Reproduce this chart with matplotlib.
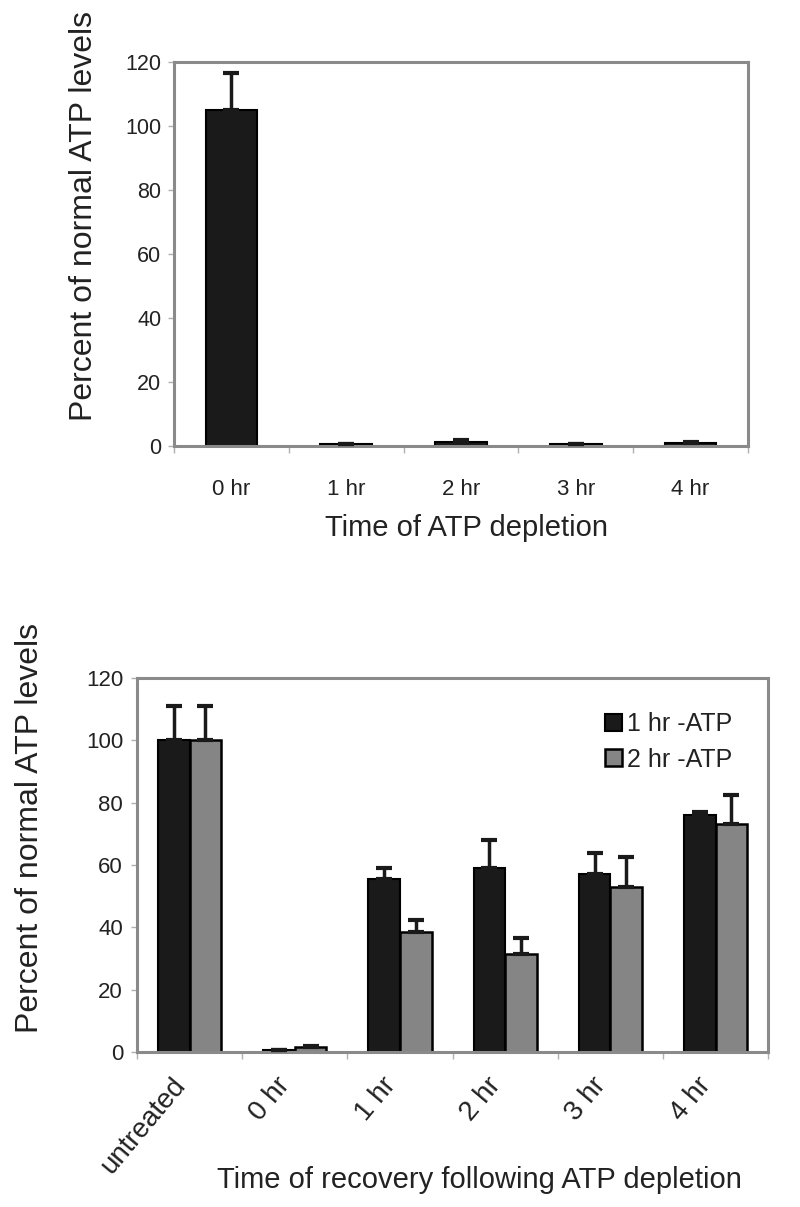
import matplotlib
matplotlib.use("Agg")
import matplotlib.pyplot as plt
import matplotlib.transforms as mtransforms
import numpy as np
from matplotlib.patches import Patch

plt.rcParams['font.family'] = ['Liberation Sans', 'DejaVu Sans']

# top panel - ATP during depletion
depl_labels = ["0 hr", "1 hr", "2 hr", "3 hr", "4 hr"]
depl_vals = [105, 0.5, 1.3, 0.5, 0.8]
depl_err = [11.5, 0.2, 0.6, 0.2, 0.5]

# bottom panel - recovery after depletion
rec_labels = ["untreated", "0 hr", "1 hr", "2 hr", "3 hr", "4 hr"]
rec_1hr = [100, 0.5, 55.5, 59, 57, 76]
rec_1hr_err = [11, 0.2, 3.5, 9, 7, 1]
rec_2hr = [100, 1.5, 38.5, 31.5, 53, 73]
rec_2hr_err = [11, 0.5, 4, 5, 9.5, 9.5]

frame_col = "#8a8a8a"
dark = "#1a1a1a"
grey = "#858585"
txt = "#222222"

fig = plt.figure(figsize=(8, 12.07), dpi=100)


def style_axes(ax, n):
    for s in ax.spines.values():
        s.set_color(frame_col)
        s.set_linewidth(2.2)
    ax.set_xlim(-0.5, n - 0.5)
    ax.set_ylim(0, 120)
    ax.set_yticks(np.arange(0, 121, 20))
    ax.set_xticks(np.arange(n))
    ax.set_xticks(np.arange(n + 1) - 0.5, minor=True)
    ax.tick_params(axis="x", which="major", length=0)
    ax.tick_params(axis="x", which="minor", length=5, width=1, color="#b0b0b0", direction="out")
    ax.tick_params(axis="y", length=4, width=1, color="#b0b0b0")
    ax.tick_params(top=False, right=False, labelcolor=txt)


# ---- top chart
ax1 = fig.add_axes([0.2175, 0.6305, 0.7175, 0.318])
x1 = np.arange(len(depl_labels))
ax1.bar(x1, depl_vals, width=0.45, color=dark, edgecolor="black", linewidth=1.5, zorder=2)
ax1.errorbar(x1, depl_vals, yerr=[np.zeros(len(x1)), depl_err], fmt="none",
             ecolor=dark, elinewidth=2.5, capsize=6, capthick=3, zorder=3)
style_axes(ax1, len(depl_labels))
ax1.set_xticklabels(depl_labels, fontsize=16)
ax1.tick_params(axis="x", which="major", pad=24)
ax1.tick_params(axis="y", labelsize=15.5, pad=5)
ax1.set_xlabel("Time of ATP depletion", fontsize=21, color=txt)
ax1.xaxis.set_label_coords(0.51, -0.177)
ax1.set_ylabel("Percent of normal ATP levels", fontsize=23, color=txt)
ax1.yaxis.set_label_coords(-0.13, 0.6)

# ---- bottom chart
ax2 = fig.add_axes([0.17125, 0.1284, 0.789, 0.3099])
x2 = np.arange(len(rec_labels))
w = 0.3
ax2.bar(x2 - w / 2, rec_1hr, width=w, color=dark, edgecolor="black", linewidth=1.5, zorder=2)
ax2.bar(x2 + w / 2, rec_2hr, width=w, color=grey, edgecolor="black", linewidth=1.8, zorder=2)
ax2.errorbar(x2 - w / 2, rec_1hr, yerr=[np.zeros(len(x2)), rec_1hr_err], fmt="none",
             ecolor=dark, elinewidth=2.5, capsize=6, capthick=3, zorder=3)
ax2.errorbar(x2 + w / 2, rec_2hr, yerr=[np.zeros(len(x2)), rec_2hr_err], fmt="none",
             ecolor=dark, elinewidth=2.5, capsize=6, capthick=3, zorder=3)
style_axes(ax2, len(rec_labels))
ax2.set_xticklabels(rec_labels, fontsize=20, rotation=50, ha="right",
                    rotation_mode="anchor")
ax2.tick_params(axis="x", which="major", pad=15)
shift = mtransforms.ScaledTranslation(-0.19, 0, fig.dpi_scale_trans)
for lab in ax2.get_xticklabels():
    lab.set_transform(lab.get_transform() + shift)
ax2.tick_params(axis="y", labelsize=16, pad=6)
ax2.set_xlabel("Time of recovery following ATP depletion", fontsize=21, color=txt)
ax2.xaxis.set_label_coords(0.542, -0.305)
ax2.set_ylabel("Percent of normal ATP levels", fontsize=23, color=txt)
ax2.yaxis.set_label_coords(-0.145, 0.6)

handles = [Patch(facecolor=dark, edgecolor="black", linewidth=1.5, label="1 hr -ATP"),
           Patch(facecolor=grey, edgecolor="black", linewidth=1.8, label="2 hr -ATP")]
ax2.legend(handles=handles, loc="upper right", bbox_to_anchor=(0.97, 0.955),
           frameon=False, fontsize=18, handlelength=0.65, handleheight=0.65,
           handletextpad=0.2, labelspacing=0.45, borderpad=0.2, labelcolor=txt)

fig.savefig("out.png", dpi=100, facecolor="white")
